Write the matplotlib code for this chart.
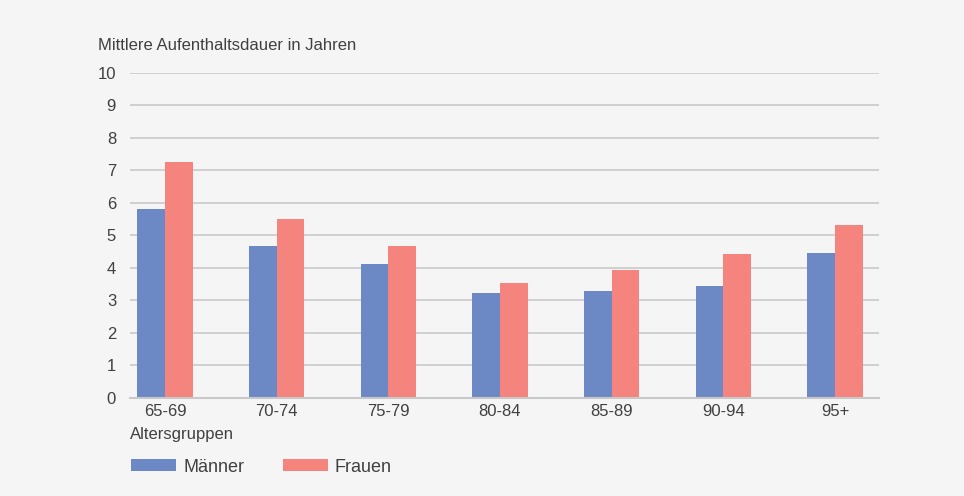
import numpy as np
import matplotlib.pyplot as plt

plt.rcParams['font.family'] = ['Liberation Sans', 'DejaVu Sans']

# daten
gruppen = ["65-69", "70-74", "75-79", "80-84", "85-89", "90-94", "95+"]
maenner = [5.80, 4.66, 4.11, 3.22, 3.29, 3.43, 4.45]
frauen = [7.25, 5.50, 4.66, 3.52, 3.92, 4.41, 5.32]

bg = '#f4f5f4'
txt = '#404040'
blau = '#6d89c5'
rot = '#f4847d'

fig = plt.figure(figsize=(9.64, 4.96), dpi=100, facecolor=bg)
ax = fig.add_axes([130/964, (496-397.5)/496, (879-130)/964, (397.5-72.7)/496])
ax.set_facecolor(bg)

x = np.arange(len(gruppen))
w = 0.248
ax.bar(x - w/2, maenner, width=w, color=blau, label='Männer', zorder=3)
ax.bar(x + w/2, frauen, width=w, color=rot, label='Frauen', zorder=3)

ax.set_xlim(-0.313, 6.394)
ax.set_ylim(0, 10)
ax.set_yticks(range(0, 11))
ax.grid(axis='y', color='#cfcfcf', linewidth=1.4, zorder=0)
for s in ['top', 'right', 'left']:
    ax.spines[s].set_visible(False)
ax.spines['bottom'].set_color('#c8c8c8')
ax.spines['bottom'].set_linewidth(1.5)
ax.spines['bottom'].set_zorder(4)

ax.set_xticks(x)
ax.set_xticklabels(gruppen)
ax.tick_params(axis='x', length=0, pad=5, labelsize=12, labelcolor=txt)
ax.tick_params(axis='y', length=0, pad=10, labelsize=12, labelcolor=txt)

fig.text(98/964, 1 - 45/496, 'Mittlere Aufenthaltsdauer in Jahren', fontsize=12,
         color=txt, va='center', ha='left')
fig.text(130/964, 1 - 435/496, 'Altersgruppen', fontsize=12, color=txt,
         va='center', ha='left')

leg = fig.legend(loc='center left', bbox_to_anchor=(115/964, 1 - 467/496), ncol=2,
                 frameon=False, fontsize=13, handlelength=2.5, handleheight=0.6,
                 handletextpad=0.4, columnspacing=2.1, labelcolor=txt)

fig.savefig('out.png', dpi=100, facecolor=bg)
